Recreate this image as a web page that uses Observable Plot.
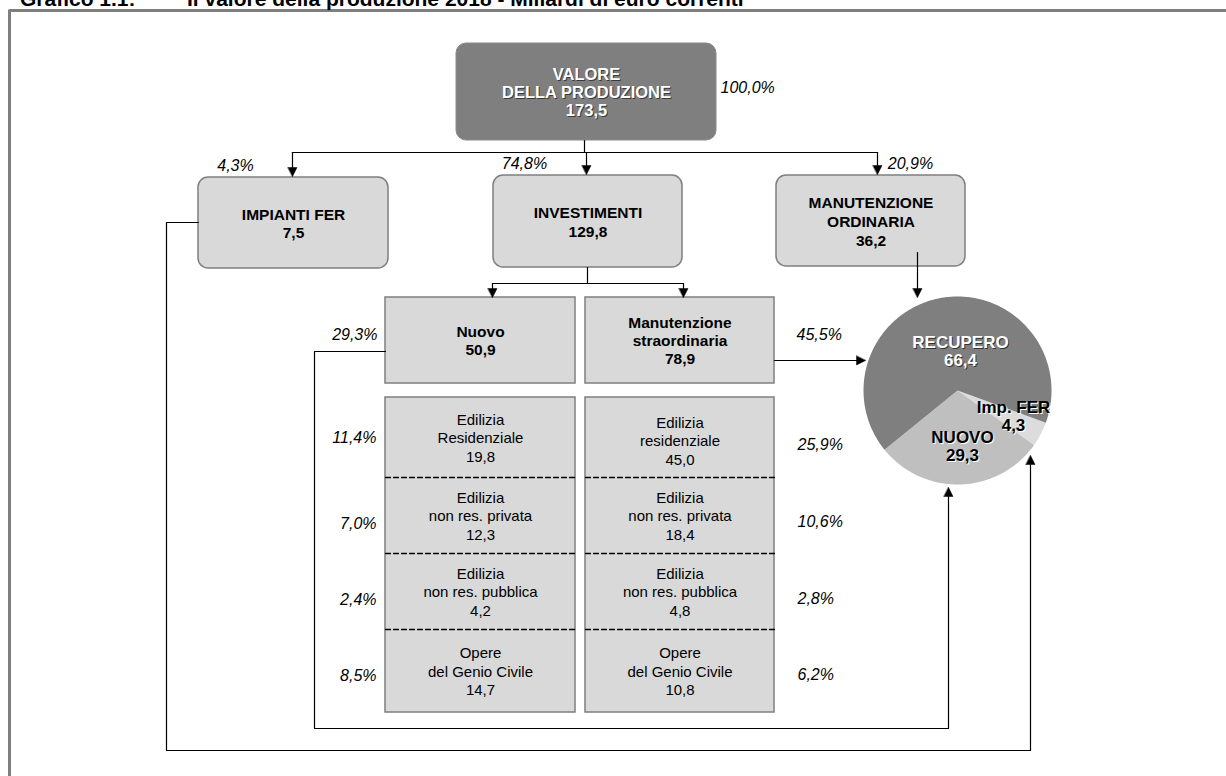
<!DOCTYPE html>
<html><head><meta charset="utf-8">
<script src="https://cdn.jsdelivr.net/npm/d3@7"></script>
<script src="https://cdn.jsdelivr.net/npm/@observablehq/plot@0.6"></script>
<style>
body{margin:0;background:#fff;}
#wrap{position:relative;width:1226px;height:776px;overflow:hidden;}
.title{position:absolute;top:-12px;font:bold 21px/21px Arial,"Liberation Sans",sans-serif;white-space:pre;color:#000;z-index:2;}
</style>
</head><body>
<div id="wrap"><div class="title" id="t1" style="left:20px"></div><div class="title" id="t2" style="left:187px"></div><div id="chart"></div></div>
<script>
// ---------------- DATA ----------------
const titleNumber = "Grafico 1.1:";
const titleText = "Il valore della produzione 2018 - Miliardi di euro correnti";
const topLabel = "VALORE\nDELLA PRODUZIONE";
const topValue = 173.5;
const topShare = 100.0;
const mainLabels = ["IMPIANTI FER", "INVESTIMENTI", "MANUTENZIONE\nORDINARIA"];
const mainValues = [7.5, 129.8, 36.2];
const mainShares = [4.3, 74.8, 20.9];
const invLabels = ["Nuovo", "Manutenzione\nstraordinaria"];
const invValues = [50.9, 78.9];
const invShares = [29.3, 45.5];
const nuovoSectors = ["Edilizia\nResidenziale", "Edilizia\nnon res. privata", "Edilizia\nnon res. pubblica", "Opere\ndel Genio Civile"];
const nuovoValues = [19.8, 12.3, 4.2, 14.7];
const nuovoShares = [11.4, 7.0, 2.4, 8.5];
const straordSectors = ["Edilizia\nresidenziale", "Edilizia\nnon res. privata", "Edilizia\nnon res. pubblica", "Opere\ndel Genio Civile"];
const straordValues = [45.0, 18.4, 4.8, 10.8];
const straordShares = [25.9, 10.6, 2.8, 6.2];
const pieLabels = ["Imp. FER", "NUOVO", "RECUPERO"];
const pieValues = [4.3, 29.3, 66.4];

// ---------------- LAYOUT / STYLE ----------------
const L = {
  top: {x1: 456, x2: 716, y1: 43, y2: 140},
  topPct: {x: 720, y: 87},
  main: [{x1: 198, x2: 388, y1: 177, y2: 268}, {x1: 493, x2: 682, y1: 175, y2: 267}, {x1: 776, x2: 965, y1: 175, y2: 266}],
  mainPct: [{x: 235, y: 165, a: "middle"}, {x: 524, y: 163, a: "middle"}, {x: 910, y: 163, a: "start"}],
  inv: [{x1: 385, x2: 575, y1: 297, y2: 383}, {x1: 585, x2: 774, y1: 297, y2: 383}],
  invPct: [{x: 377, y: 334, a: "end"}, {x: 796, y: 334, a: "start"}],
  stackY: [397, 477, 553, 629, 712],
  leftPct: {x: 376, ys: [437, 523, 599, 675]},
  rightPct: {x: 797, ys: [444, 521, 598, 674]},
  pie: {cx: 957, cy: 390, r: 94, start: 110},
  pieText: [{x: 1013, y: 416}, {x: 962, y: 446}, {x: 960, y: 351}],
  pieColors: ["#dcdcdc", "#bfbfbf", "#7f7f7f"],
  pieTextColors: ["#000", "#000", "#fff"],
  pieShadow: ["#fff", "#fff", "#333"],
  frame: [[1260, 10], [9, 10], [9, 800]],
  connectors: [
    [[584, 140], [584, 152]],
    [[292, 152], [877, 152]],
    [[292, 152], [292, 168]],
    [[586, 152], [586, 166]],
    [[877, 152], [877, 166]],
    [[587, 267], [587, 283]],
    [[492, 283], [683, 283]],
    [[492, 283], [492, 288]],
    [[683, 283], [683, 288]],
    [[917, 252], [917, 288]],
    [[774, 360], [856, 360]],
    [[198, 222], [166, 222], [166, 750], [1030, 750], [1030, 464]],
    [[385, 351], [314, 351], [314, 728], [948, 728], [948, 496]]
  ],
  arrows: [
    {x: 292, y: 176, d: "down"}, {x: 586, y: 174, d: "down"}, {x: 877, y: 174, d: "down"},
    {x: 492, y: 297, d: "down"}, {x: 683, y: 297, d: "down"},
    {x: 917, y: 297, d: "down"}, {x: 865, y: 360, d: "right"},
    {x: 1030, y: 455, d: "up"}, {x: 948, y: 487, d: "up"}
  ]
};
const FONT = 'Arial, "Liberation Sans", sans-serif';

document.getElementById("t1").textContent = titleNumber;
document.getElementById("t2").textContent = titleText;

const fmt = v => d3.format(".1f")(v).replace(".", ",");
const pct = v => fmt(v) + "%";
const center = b => ({x: (b.x1 + b.x2) / 2, y: (b.y1 + b.y2) / 2});

// boxes
const topBox = [{...L.top}];
const mainBoxes = L.main.map(b => ({...b}));
const invBoxes = L.inv.map(b => ({...b}));
const stackBoxes = L.inv.map(b => ({x1: b.x1, x2: b.x2, y1: L.stackY[0], y2: L.stackY[4]}));
const dashPts = [];
L.inv.forEach((b, c) => [1, 2, 3].forEach(k => {
  dashPts.push({x: b.x1, y: L.stackY[k], id: c + "-" + k});
  dashPts.push({x: b.x2, y: L.stackY[k], id: c + "-" + k});
}));

// texts
const topText = [{...center(L.top), text: topLabel + "\n" + fmt(topValue)}];
const topPctText = [{...L.topPct, text: pct(topShare)}];
const mainText = mainLabels.map((l, i) => ({...center(L.main[i]), text: l + "\n" + fmt(mainValues[i])}));
const mainPctText = mainShares.map((s, i) => ({x: L.mainPct[i].x, y: L.mainPct[i].y, a: L.mainPct[i].a, text: pct(s)}));
const invText = invLabels.map((l, i) => ({...center(L.inv[i]), text: l + "\n" + fmt(invValues[i])}));
const invPctText = invShares.map((s, i) => ({x: L.invPct[i].x, y: L.invPct[i].y, a: L.invPct[i].a, text: pct(s)}));
const sectorText = [];
nuovoSectors.forEach((l, i) => sectorText.push({x: (L.inv[0].x1 + L.inv[0].x2) / 2, y: (L.stackY[i] + L.stackY[i + 1]) / 2, text: l + "\n" + fmt(nuovoValues[i])}));
straordSectors.forEach((l, i) => sectorText.push({x: (L.inv[1].x1 + L.inv[1].x2) / 2, y: (L.stackY[i] + L.stackY[i + 1]) / 2 + (i === 0 ? 3 : 0), text: l + "\n" + fmt(straordValues[i])}));
const leftPctText = nuovoShares.map((s, i) => ({x: L.leftPct.x, y: L.leftPct.ys[i], text: pct(s)}));
const rightPctText = straordShares.map((s, i) => ({x: L.rightPct.x, y: L.rightPct.ys[i], text: pct(s)}));

// connectors
const connPts = L.connectors.flatMap((seg, i) => seg.map(([x, y]) => ({x, y, id: i})));
const framePts = L.frame.map(([x, y]) => ({x, y}));
const arrowPts = L.arrows.flatMap((a, i) => {
  const h = 9, w = 4.5;
  let pts;
  if (a.d === "down") pts = [[a.x - w, a.y - h], [a.x + w, a.y - h], [a.x, a.y]];
  else if (a.d === "up") pts = [[a.x - w, a.y + h], [a.x + w, a.y + h], [a.x, a.y]];
  else pts = [[a.x - h, a.y - w], [a.x - h, a.y + w], [a.x, a.y]];
  return pts.map(([x, y]) => ({x, y, id: i}));
});

// pie
const P = L.pie;
const arcs = d3.pie().sort(null)
  .startAngle(P.start * Math.PI / 180)
  .endAngle(P.start * Math.PI / 180 + 2 * Math.PI)(pieValues);
const slicePts = arcs.flatMap((a, i) => {
  const pts = [{x: P.cx, y: P.cy, id: i, color: L.pieColors[i]}];
  const n = Math.max(4, Math.ceil((a.endAngle - a.startAngle) * 180 / Math.PI));
  for (let k = 0; k <= n; k++) {
    const ang = a.startAngle + (a.endAngle - a.startAngle) * k / n;
    pts.push({x: P.cx + P.r * Math.sin(ang), y: P.cy - P.r * Math.cos(ang), id: i, color: L.pieColors[i]});
  }
  return pts;
});
const pieText = pieLabels.map((l, i) => ({...L.pieText[i], text: l + "\n" + fmt(pieValues[i]), fill: L.pieTextColors[i], shadow: L.pieShadow[i]}));

const plot = Plot.plot({
  width: 1226, height: 776, margin: 0,
  style: {fontFamily: FONT, background: "#fff"},
  x: {domain: [0, 1226], range: [0, 1226], axis: null},
  y: {domain: [0, 776], range: [0, 776], axis: null},
  marks: [
    Plot.line(framePts, {x: "x", y: "y", stroke: "#7f7f7f", strokeWidth: 3}),
    Plot.rect(topBox, {x1: "x1", x2: "x2", y1: "y1", y2: "y2", rx: 10, fill: "#7f7f7f", stroke: "#8a8a8a", strokeWidth: 1}),
    Plot.rect(mainBoxes, {x1: "x1", x2: "x2", y1: "y1", y2: "y2", rx: 10, fill: "#d9d9d9", stroke: "#7f7f7f", strokeWidth: 1.5}),
    Plot.rect(invBoxes, {x1: "x1", x2: "x2", y1: "y1", y2: "y2", fill: "#d9d9d9", stroke: "#7f7f7f", strokeWidth: 1.5}),
    Plot.rect(stackBoxes, {x1: "x1", x2: "x2", y1: "y1", y2: "y2", fill: "#d9d9d9", stroke: "#7f7f7f", strokeWidth: 1.5}),
    Plot.line(dashPts, {x: "x", y: "y", z: "id", stroke: "#000", strokeWidth: 1.3, strokeDasharray: "5,3"}),
    Plot.line(connPts, {x: "x", y: "y", z: "id", stroke: "#000", strokeWidth: 1.2}),
    Plot.line(arrowPts, {x: "x", y: "y", z: "id", fill: "#000", stroke: "#000", strokeWidth: 0.5, curve: "linear-closed"}),
    Plot.line(slicePts, {x: "x", y: "y", z: "id", fill: "color", stroke: null, curve: "linear-closed"}),
    // top box text
    Plot.text(topText, {x: "x", y: "y", text: "text", dx: 1, dy: 1, fill: "#3a3a3a", fontSize: 16.5, fontWeight: "bold", lineHeight: 1.11, lineAnchor: "middle"}),
    Plot.text(topText, {x: "x", y: "y", text: "text", fill: "#fff", fontSize: 16.5, fontWeight: "bold", lineHeight: 1.11, lineAnchor: "middle"}),
    Plot.text(topPctText, {x: "x", y: "y", text: "text", textAnchor: "start", fontSize: 16, fontStyle: "italic", fill: "#000"}),
    Plot.text(mainText, {x: "x", y: "y", text: "text", fontSize: 15.5, fontWeight: "bold", lineHeight: 1.2, lineAnchor: "middle", fill: "#000"}),
    Plot.text(mainPctText, {x: "x", y: "y", text: "text", textAnchor: d => d.a, fontSize: 16, fontStyle: "italic", fill: "#000"}),
    Plot.text(invText, {x: "x", y: "y", text: "text", fontSize: 15.5, fontWeight: "bold", lineHeight: 1.16, lineAnchor: "middle", fill: "#000"}),
    Plot.text(invPctText.filter(d => d.a === "end"), {x: "x", y: "y", text: "text", textAnchor: "end", fontSize: 16, fontStyle: "italic", fill: "#000"}),
    Plot.text(invPctText.filter(d => d.a === "start"), {x: "x", y: "y", text: "text", textAnchor: "start", fontSize: 16, fontStyle: "italic", fill: "#000"}),
    Plot.text(sectorText, {x: "x", y: "y", text: "text", fontSize: 15, lineHeight: 1.23, lineAnchor: "middle", fill: "#000"}),
    Plot.text(leftPctText, {x: "x", y: "y", text: "text", textAnchor: "end", fontSize: 16, fontStyle: "italic", fill: "#000"}),
    Plot.text(rightPctText, {x: "x", y: "y", text: "text", textAnchor: "start", fontSize: 16, fontStyle: "italic", fill: "#000"}),
    Plot.text(pieText, {x: "x", y: "y", text: "text", dx: 1, dy: 1, fill: "shadow", fontSize: 17, fontWeight: "bold", lineHeight: 1.06, lineAnchor: "middle"}),
    Plot.text(pieText, {x: "x", y: "y", text: "text", fill: "fill", fontSize: 17, fontWeight: "bold", lineHeight: 1.06, lineAnchor: "middle"})
  ]
});
document.getElementById("chart").appendChild(plot);
</script>
</body></html>
